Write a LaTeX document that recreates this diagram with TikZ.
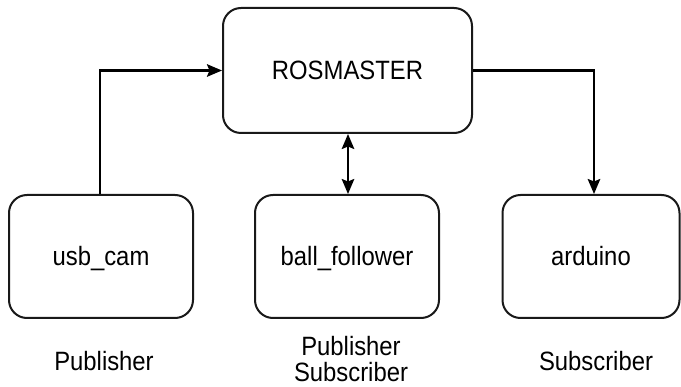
\documentclass[tikz,border=0pt]{standalone}
\usepackage{fontspec}
\setmainfont[FakeStretch=0.9]{Liberation Sans}
\usetikzlibrary{arrows.meta}
\begin{document}
\begin{tikzpicture}[x=1pt,y=-1pt,
  tip/.tip={Stealth[length=15pt,width=12.5pt,inset=2.5pt]},
  box/.style={draw=black!90,line width=2pt,rounded corners=18pt,inner sep=0pt,
    font=\fontsize{26.5}{30}\selectfont,text height=19pt,text depth=0pt},
  lab/.style={font=\fontsize{26.5}{29}\selectfont,align=center,inner sep=0pt},
  conn/.style={draw=black,line width=2.2pt,-tip},
  dconn/.style={draw=black,line width=2.2pt,tip-tip}]
\useasboundingbox (0,0) rectangle (681,387);
\node[box,minimum width=249pt,minimum height=125pt] (ros) at (347.5,70.5) {ROSMASTER};
\node[box,minimum width=184pt,minimum height=123pt] (usb) at (101,256.5) {usb\_cam};
\node[box,minimum width=184pt,minimum height=123pt] (ball) at (347,256.5) {ball\_follower};
\node[box,minimum width=177pt,minimum height=123pt] (ard) at (591,256.5) {arduino};
\coordinate (c1) at (100,70.5);
\coordinate (c2) at (594,70.5);
\draw[conn] (usb.north -| c1) -- (c1) -- (ros.west);
\draw[conn] (ros.east) -- (c2) -- (ard.north -| c2);
\draw[dconn] (ros.south -| 348,0) -- (ball.north -| 348,0);
\node[lab] (p1) at (104,361) {Publisher};
\node[lab] (p2) at (351,359) {Publisher\\[-3pt]Subscriber};
\node[lab] (p3) at (596,361) {Subscriber};
\end{tikzpicture}
\end{document}
